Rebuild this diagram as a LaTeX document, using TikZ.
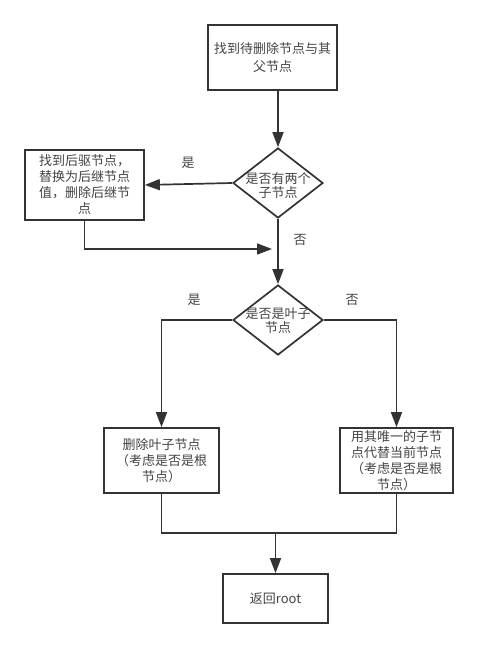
\documentclass[tikz,border=0pt]{standalone}
\usepackage{fontspec}
\newfontfamily\cjk{Noto Sans CJK SC}
\usetikzlibrary{arrows.meta,shapes.geometric}
\definecolor{ln}{HTML}{333333}
\definecolor{tx}{HTML}{444444}
\begin{document}
\begin{tikzpicture}[x=1pt,y=-1pt,
  txt/.style={font=\cjk\fontsize{13}{16}\selectfont, text=tx},
  box/.style={txt, draw=ln, line width=1.7pt, fill=white, inner sep=0pt, align=center},
  dia/.style={diamond, draw=ln, line width=1.7pt, fill=white, inner sep=0pt, minimum width=90pt, minimum height=70pt},
  dtext/.style={txt, font=\cjk\fontsize{13}{14}\selectfont, align=center, inner sep=0pt},
  lbl/.style={txt, inner sep=0pt},
  line/.style={draw=ln, line width=1.7pt},
  arr/.style={line, -{Triangle[length=15pt,width=11pt]}}
]
\fill[white] (0,0) rectangle (477,647);
\useasboundingbox (0,0) rectangle (477,647);

\node[box, minimum width=129pt, minimum height=65pt, font=\cjk\fontsize{13}{18}\selectfont] (find) at (272.5,57.5) {找到待删除节点与其\\父节点};
\node[dia, label={[dtext, yshift=-3pt]center:{是否有两个\\子节点}}] (d1) at (278,183) {};
\node[box, minimum width=119pt, minimum height=70pt] (succ) at (84.5,185) {找到后驱节点，\\替换为后继节点\\值，删除后继节\\点};
\node[dia, label={[dtext, yshift=-1pt]center:{是否是叶子\\节点}}] (d2) at (278,320) {};
\node[box, minimum width=115pt, minimum height=65pt] (leaf) at (161.5,460.5) {删除叶子节点\\（考虑是否是根\\节点）};
\node[box, minimum width=113pt, minimum height=65pt] (rep) at (396.5,460.5) {用其唯一的子节\\点代替当前节点\\（考虑是否是根\\节点）};
\node[box, minimum width=105pt, minimum height=49pt] (ret) at (275.5,598.5) {返回root};

\coordinate (c1) at (272,249);
\coordinate (m) at (275.5,533);

\draw[arr] (find.south -| d1.north) -- (d1.north);
\draw[arr] (d1.west) -- (succ.east);
\draw[arr] (d1.south) -- (d2.north);
\draw[arr] (succ.south) |- (c1);
\draw[arr] (d2.west) -| (leaf.north);
\draw[arr] (d2.east) -| (rep.north);
\draw[line] (leaf.south) |- (m) -| (rep.south);
\draw[arr] (m) -- (ret.north);

\node[lbl] (yes1) at (188,163) {是};
\node[lbl] (no1) at (300,240) {否};
\node[lbl] (yes2) at (194,300) {是};
\node[lbl] (no2) at (352,300) {否};
\end{tikzpicture}
\end{document}
